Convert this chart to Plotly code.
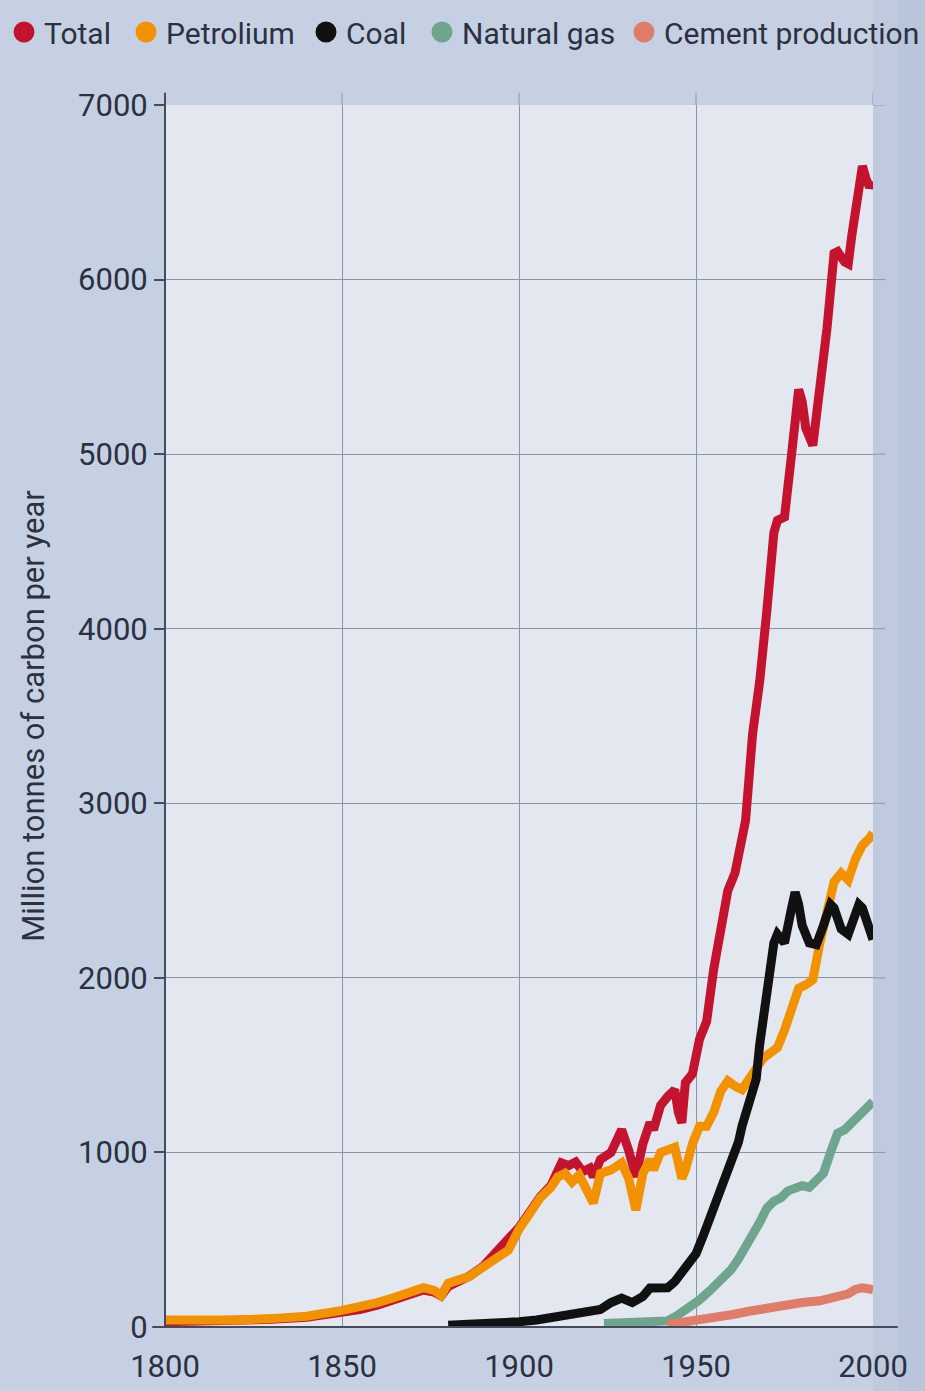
import plotly.graph_objects as go

# ---------------- data ----------------
total_years = [1800, 1810, 1820, 1830, 1840, 1850, 1855, 1860, 1865, 1870, 1873, 1876, 1878, 1880,
               1883, 1886, 1890, 1894, 1897, 1900, 1903, 1906, 1909, 1912, 1914, 1916, 1918, 1920,
               1921, 1923, 1926, 1929, 1931, 1933, 1935, 1937, 1938, 1940, 1942, 1944, 1945, 1946,
               1947, 1949, 1951, 1953, 1955, 1957, 1959, 1961, 1962, 1964, 1966, 1968, 1970, 1972,
               1973, 1975, 1977, 1979, 1980, 1981, 1983, 1985, 1987, 1989, 1990, 1992, 1993, 1994,
               1996, 1997, 1998, 1999, 2000]
total_vals = [30, 32, 36, 44, 56, 80, 100, 125, 155, 185, 212, 200, 178, 232,
              262, 292, 350, 430, 505, 570, 660, 745, 810, 940, 925, 945, 890, 910,
              860, 960, 1000, 1130, 1010, 860, 1050, 1170, 1130, 1270, 1320, 1360, 1230, 1170,
              1400, 1450, 1650, 1750, 2050, 2300, 2500, 2600, 2700, 2900, 3400, 3700, 4100, 4550,
              4620, 4640, 5000, 5370, 5300, 5150, 5050, 5350, 5720, 6150, 6160, 6100, 6090, 6250,
              6500, 6650, 6580, 6530, 6560]

petrol_years = [1800, 1810, 1820, 1830, 1840, 1850, 1855, 1860, 1865, 1870, 1873, 1876, 1878, 1880,
                1883, 1886, 1890, 1894, 1897, 1900, 1903, 1906, 1909, 1911, 1913, 1915, 1917, 1919,
                1921, 1923, 1926, 1929, 1931, 1933, 1935, 1937, 1938, 1940, 1942, 1944, 1946, 1947,
                1949, 1951, 1953, 1955, 1957, 1959, 1961, 1963, 1965, 1967, 1969, 1971, 1973, 1975,
                1977, 1979, 1981, 1983, 1985, 1987, 1989, 1991, 1993, 1995, 1997, 1999, 2000]
petrol_vals = [40, 38, 40, 48, 62, 95, 115, 140, 170, 200, 225, 210, 180, 250,
               270, 290, 345, 405, 440, 560, 660, 740, 800, 860, 880, 830, 870, 800,
               710, 880, 900, 940, 850, 670, 880, 960, 900, 1000, 1010, 1030, 850, 900,
               1050, 1150, 1150, 1230, 1350, 1410, 1380, 1360, 1420, 1490, 1540, 1570, 1600, 1700,
               1830, 1940, 1960, 1990, 2200, 2400, 2550, 2600, 2560, 2680, 2760, 2800, 2830]

coal_years = [1880, 1885, 1890, 1895, 1900, 1905, 1910, 1915, 1920, 1923, 1926, 1929, 1932, 1935,
              1937, 1940, 1942, 1944, 1946, 1948, 1950, 1952, 1954, 1956, 1958, 1960, 1962, 1963,
              1964, 1966, 1967, 1968, 1970, 1971, 1972, 1973, 1974, 1975, 1977, 1978, 1979, 1980,
              1982, 1984, 1986, 1988, 1989, 1991, 1993, 1995, 1996, 1997, 1999, 2000]
coal_vals = [10, 12, 18, 24, 30, 40, 55, 70, 90, 100, 140, 165, 140, 175,
             223, 220, 225, 260, 310, 350, 420, 520, 630, 720, 820, 930, 1060, 1150,
             1210, 1320, 1420, 1620, 1900, 2050, 2200, 2250, 2230, 2200, 2400, 2490, 2420, 2300,
             2200, 2190, 2300, 2420, 2400, 2280, 2250, 2350, 2420, 2400, 2250, 2220]

gas_years = [1924, 1930, 1935, 1940, 1942, 1945, 1948, 1951, 1954, 1957, 1960, 1962, 1964, 1966,
             1968, 1970, 1972, 1974, 1976, 1978, 1980, 1982, 1984, 1986, 1988, 1990, 1992, 1994,
             1996, 1998, 2000]
gas_vals = [20, 22, 25, 28, 35, 70, 110, 155, 210, 270, 330, 390, 450, 530,
            600, 680, 720, 740, 780, 800, 810, 800, 840, 880, 1000, 1110, 1130, 1170,
            1220, 1250, 1290]

cement_years = [1942, 1946, 1950, 1955, 1960, 1965, 1970, 1975, 1980, 1985, 1990, 1993, 1995, 1997, 2000]
cement_vals = [15, 25, 35, 50, 70, 90, 110, 125, 140, 150, 170, 190, 215, 225, 215]

series_names = ["Total", "Petrolium", "Coal", "Natural gas", "Cement production"]
series_colors = ["#c4132f", "#f39200", "#111111", "#6fa58d", "#e07c69"]

x_ticks = [1800, 1850, 1900, 1950, 2000]
y_ticks = [0, 1000, 2000, 3000, 4000, 5000, 6000, 7000]
y_title = "Million tonnes of carbon per year"

FONT = "Roboto, Liberation Sans, sans-serif"
TXT = "#2b3140"
W, H = 925, 1391

series = [
    (total_years, total_vals),
    (petrol_years, petrol_vals),
    (coal_years, coal_vals),
    (gas_years, gas_vals),
    (cement_years, cement_vals),
]

legend_ids = ["legend", "legend2", "legend3", "legend4", "legend5"]
legend_centers_px = [23, 145, 325, 441, 643]   # circle centres across the top row

fig = go.Figure()
for (xs, ys), name, col in zip(series, series_names, series_colors):
    fig.add_trace(go.Scatter(x=xs, y=ys, mode="lines", name=name, legendgroup=name,
                             showlegend=False,
                             line=dict(color=col, width=9, shape="linear"),
                             hoverinfo="x+y+name"))
# legend entries shown as filled circles, one legend box per entry
for name, col, lid in zip(series_names, series_colors, legend_ids):
    fig.add_trace(go.Scatter(x=[None], y=[None], mode="markers", name=name, legendgroup=name,
                             legend=lid,
                             marker=dict(color=col, size=16, line=dict(color=col, width=5))))

legend_layout = {}
for lid, cx in zip(legend_ids, legend_centers_px):
    legend_layout[lid] = dict(orientation="h", xref="container", yref="container",
                              x=(cx - 19) / W, xanchor="left", y=1 - 32 / H, yanchor="middle",
                              font=dict(family=FONT, size=30, color=TXT),
                              bgcolor="rgba(0,0,0,0)", borderwidth=0, itemsizing="trace",
                              itemclick=False, itemdoubleclick=False)

shapes = []
# shaded band to the right of the plot (reference has a darker right edge)
shapes.append(dict(type="rect", xref="paper", yref="paper", x0=1.0, x1=1.08, y0=-0.06, y1=1.1,
                   fillcolor="#c0cadf", line=dict(width=0), layer="below"))
shapes.append(dict(type="rect", xref="paper", yref="paper", x0=1.035, x1=1.08, y0=-0.06, y1=1.1,
                   fillcolor="#b9c5db", line=dict(width=0), layer="below"))
# grid line extensions beyond the plot frame
for v in y_ticks[1:]:
    shapes.append(dict(type="line", xref="paper", yref="y", x0=1.0, x1=1.017, y0=v, y1=v,
                       line=dict(color="#8c95a8", width=1)))
for v in x_ticks[1:]:
    shapes.append(dict(type="line", xref="x", yref="paper", x0=v, x1=v, y0=1.0, y1=1.01,
                       line=dict(color="#8c95a8", width=1)))
# axis lines (extend slightly past the frame)
shapes.append(dict(type="line", xref="paper", yref="paper", x0=-0.018, x1=1.035, y0=0, y1=0,
                   line=dict(color="#454b5a", width=2)))
shapes.append(dict(type="line", xref="paper", yref="paper", x0=0, x1=0, y0=0, y1=1.01,
                   line=dict(color="#454b5a", width=2)))

fig.update_layout(
    width=W, height=H,
    margin=dict(l=165, r=52, t=105, b=64, autoexpand=False),
    paper_bgcolor="#c6d0e3",
    plot_bgcolor="#e2e7f0",
    font=dict(family=FONT, color=TXT, size=30),
    showlegend=True,
    shapes=shapes,
    **legend_layout,
)
fig.update_xaxes(range=[1800, 2000], tickvals=x_ticks, ticktext=[str(t) for t in x_ticks],
                 showgrid=True, gridcolor="#8c95a8", gridwidth=1, zeroline=False,
                 showline=False, ticks="outside", ticklen=12, tickcolor="rgba(0,0,0,0)",
                 tickfont=dict(family=FONT, size=31, color=TXT))
fig.update_yaxes(range=[0, 7000], tickvals=y_ticks, ticktext=[str(t) for t in y_ticks],
                 showgrid=True, gridcolor="#8c95a8", gridwidth=1, zeroline=False,
                 showline=False, ticks="outside", ticklen=10, tickcolor="#454b5a", tickwidth=2,
                 tickfont=dict(family=FONT, size=31, color=TXT),
                 title=dict(text=y_title, font=dict(family=FONT, size=31, color=TXT), standoff=24))

fig.write_html("out.html", config={"displayModeBar": False},
               post_script="document.body.style.margin='0px';document.body.style.overflow='hidden';")
